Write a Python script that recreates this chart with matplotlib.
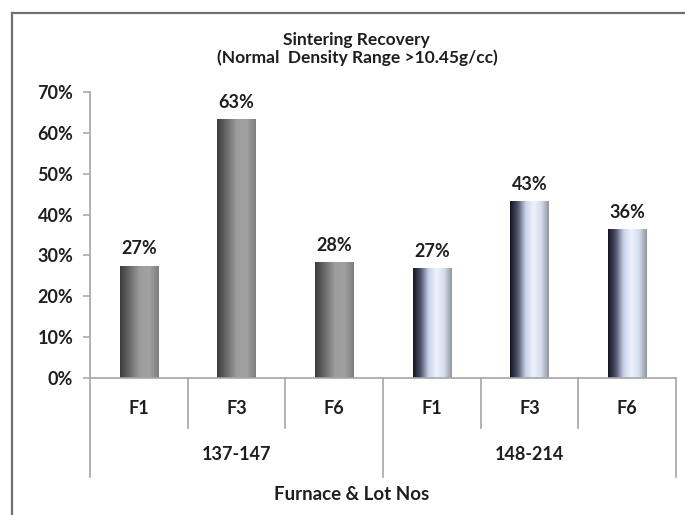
import numpy as np
import matplotlib
matplotlib.use("Agg")
import matplotlib.pyplot as plt
from matplotlib.colors import LinearSegmentedColormap
from matplotlib.lines import Line2D

# Data
furnaces = ["F1", "F3", "F6", "F1", "F3", "F6"]
lot_groups = ["137-147", "148-214"]
group_sizes = [3, 3]
recovery = [0.274, 0.632, 0.283, 0.268, 0.431, 0.364]
y_ticks = [0.0, 0.1, 0.2, 0.3, 0.4, 0.5, 0.6, 0.7]

title_lines = ["Sintering Recovery", "(Normal  Density Range >10.45g/cc)"]
x_title = "Furnace & Lot Nos"

FONT = "Lato"
TXT = "#1e1e1e"
W, H = 685, 515
fig = plt.figure(figsize=(W / 100, H / 100), dpi=100)
fig.patch.set_facecolor("white")

# outer chart frame (left and top edges are inside the canvas)
fig.add_artist(Line2D([12 / W, 12 / W], [0, 1 - 13 / H], transform=fig.transFigure,
                      color="#707070", lw=1.6))
fig.add_artist(Line2D([12 / W, 1], [1 - 13 / H, 1 - 13 / H], transform=fig.transFigure,
                      color="#707070", lw=1.6))

ax_l, ax_r, ax_b, ax_t = 90, 676, 378, 92
ax = fig.add_axes([ax_l / W, 1 - ax_b / H, (ax_r - ax_l) / W, (ax_b - ax_t) / H])

for s in ["top", "right"]:
    ax.spines[s].set_visible(False)
for s in ["left", "bottom"]:
    ax.spines[s].set_color("#a6a6a6")
    ax.spines[s].set_linewidth(1.2)

ax.set_yticks(y_ticks)
ax.set_yticklabels([f"{v:.0%}" for v in y_ticks], fontfamily=FONT,
                   fontweight="bold", fontsize=13, color=TXT)
ax.tick_params(axis="y", length=5, color="#a6a6a6", width=1.1, pad=7)
ax.set_xticks([])

grey_cmap = LinearSegmentedColormap.from_list(
    "grey_bar", ["#3c3c3c", "#6a6a6a", "#9c9c9c", "#a2a2a2", "#7e7e7e"])
blue_cmap = LinearSegmentedColormap.from_list(
    "blue_bar", ["#14141e", "#50546a", "#c8d2ea", "#eef2fc", "#d6deee", "#8c949c"])

bars = ax.bar(range(len(recovery)), recovery, width=0.39,
              facecolor="none", edgecolor="none")
grad = np.linspace(0, 1, 256).reshape(1, -1)
for i, (rect, val) in enumerate(zip(bars, recovery)):
    x0 = rect.get_x()
    x1 = x0 + rect.get_width()
    cmap = grey_cmap if i < group_sizes[0] else blue_cmap
    ax.imshow(grad, cmap=cmap, extent=[x0, x1, 0, rect.get_height()],
              aspect="auto", interpolation="bicubic", zorder=2)
    ax.text(rect.get_x() + rect.get_width() / 2, val + 0.042, f"{val:.0%}",
            ha="center", va="center", fontfamily=FONT, fontweight="bold",
            fontsize=13, color=TXT)
ax.set_xlim(-0.5, len(recovery) - 0.5)
ax.set_ylim(0, 0.7)

# multi-level category axis
ax_h = ax_b - ax_t
xt = ax.get_xaxis_transform()
short_y = -50 / ax_h
long_y = -99 / ax_h
boundaries = np.arange(len(recovery) + 1) - 0.5
group_edges = np.concatenate([[0], np.cumsum(group_sizes)])
for k, b in enumerate(boundaries):
    bottom = long_y if k in group_edges else short_y
    ax.add_line(Line2D([b, b], [0, bottom], transform=xt, clip_on=False,
                       color="#a6a6a6", lw=1.2))

for i, name in enumerate(furnaces):
    ax.text(i, -30 / ax_h, name, transform=xt, ha="center", va="center",
            fontfamily=FONT, fontweight="bold", fontsize=13, color=TXT)

for g, name in enumerate(lot_groups):
    centre = (group_edges[g] + group_edges[g + 1] - 1) / 2
    ax.text(centre, -77 / ax_h, name, transform=xt, ha="center", va="center",
            fontfamily=FONT, fontweight="bold", fontsize=13, color=TXT)

fig.text(352 / W, 1 - 495 / H, x_title, ha="center", va="center",
         fontfamily=FONT, fontweight="bold", fontsize=13.5, color=TXT)

fig.text(356 / W, 1 - 40 / H, title_lines[0], ha="center", va="center",
         fontfamily=FONT, fontweight="bold", fontsize=12.5, color=TXT)
fig.text(357 / W, 1 - 58 / H, title_lines[1], ha="center", va="center",
         fontfamily=FONT, fontweight="bold", fontsize=12.5, color=TXT)

fig.savefig("out.png", dpi=100, facecolor="white")
